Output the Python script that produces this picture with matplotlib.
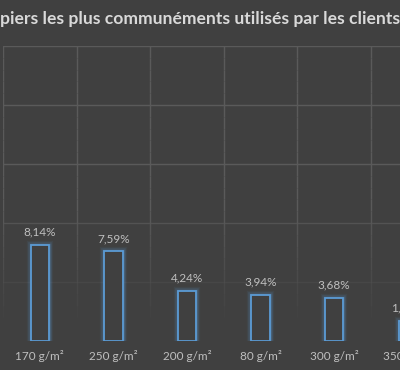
import numpy as np
import matplotlib
matplotlib.use("Agg")
import matplotlib.pyplot as plt

categories = ["170 g/m²", "250 g/m²", "200 g/m²", "80 g/m²", "300 g/m²", "350 g/m²"]
values = [8.14, 7.59, 4.24, 3.94, 3.68, 1.70]
value_labels = ["8,14%", "7,59%", "4,24%", "3,94%", "3,68%", "1,70%"]
title = "piers les plus communéments utilisés par les clients"

BG = "#404040"
BLUE = "#5b9bd5"
GRID = "#5a5a5a"
TXT = "#bfbfbf"
TITLE_C = "#d9d9d9"

plt.rcParams["font.family"] = ["Lato", "DejaVu Sans"]

W, H = 400, 370
fig = plt.figure(figsize=(W / 100, H / 100), dpi=100, facecolor=BG)

band = 73.6
n_bands = 7
ax = fig.add_axes([3 / W, 29 / H, band * n_bands / W, 295 / H])
ax.set_facecolor(BG)
ax.set_xlim(-0.5, n_bands - 0.5)
ax.set_ylim(0, 25)
for s in ax.spines.values():
    s.set_visible(False)
ax.set_xticks([]); ax.set_yticks([])

# grid, fading towards the bottom like the original
for yv, a in [(25, 1), (20, 1), (15, 1), (10, 0.75), (5, 0.3)]:
    ax.axhline(yv, color=GRID, lw=1, alpha=a, zorder=1)
ys = np.linspace(25, 2, 24)
for xb in np.arange(-0.5, n_bands, 1.0):
    for y0, y1 in zip(ys[:-1], ys[1:]):
        a = 1.0 if y0 > 12 else max(0.0, (y0 - 2) / 10)
        ax.plot([xb, xb], [y0, y1], color=GRID, lw=1, alpha=a, zorder=1,
                solid_capstyle="butt")

x = np.arange(len(categories))
# soft glow around the bar outlines
for lw, a in [(6, 0.07), (4, 0.14), (2.5, 0.22)]:
    ax.bar(x, values, width=0.25, facecolor="none", edgecolor=BLUE,
           linewidth=lw, alpha=a, zorder=2)
ax.bar(x, values, width=0.25, facecolor=BG, edgecolor=BLUE, linewidth=1.3, zorder=3)

for xi, v, lab in zip(x, values, value_labels):
    ax.text(xi, v + 1.1, lab, ha="center", va="center", fontsize=8.5,
            color=TXT, zorder=4)
    ax.text(xi, -1.25, categories[xi], ha="center", va="center", fontsize=8.5,
            color=TXT, clip_on=False)

fig.text(0, 1 - 19 / H, title, ha="left", va="center", fontsize=12.6,
         fontweight="bold", color=TITLE_C)

fig.savefig("out.png", facecolor=BG)
